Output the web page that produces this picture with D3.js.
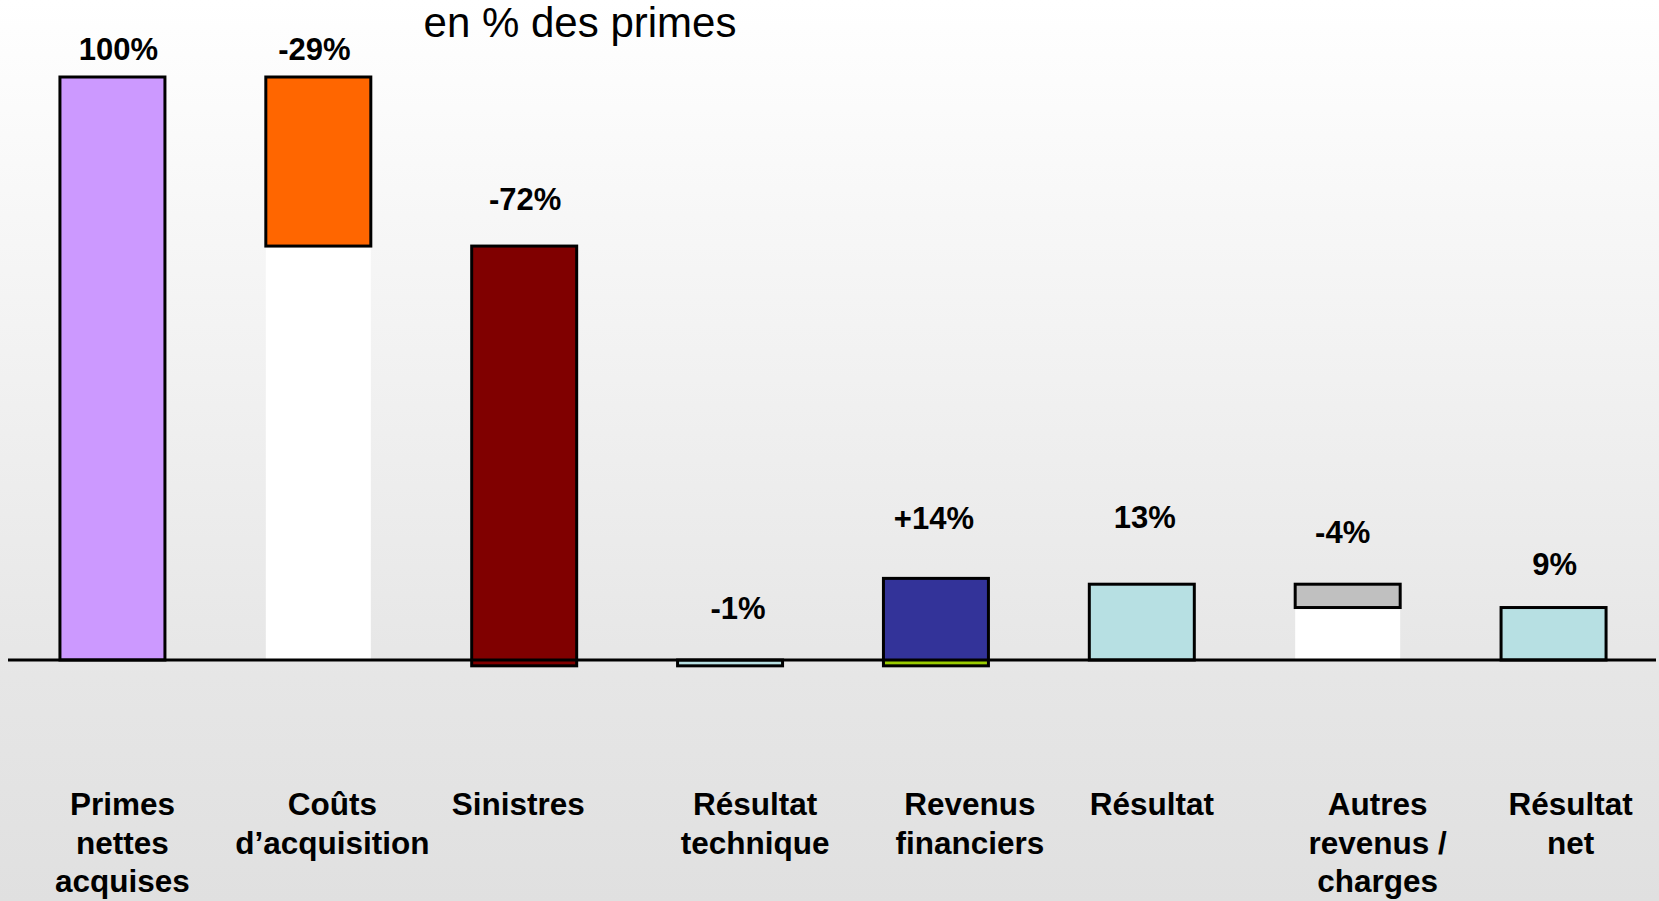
<!DOCTYPE html>
<html lang="fr">
<head>
<meta charset="utf-8">
<script src="https://cdn.jsdelivr.net/npm/d3@7"></script>
<style>
  html, body { margin: 0; padding: 0; background: #fff; }
  svg { display: block; font-family: "Liberation Sans", Arial, sans-serif; }
</style>
</head>
<body>
<svg id="chart" width="1659" height="901"></svg>
<script>
// Compte de résultat en cascade, exprimé en % des primes
const categories = ["primes", "couts", "sinistres", "resTech", "revFin", "resultat", "autres", "resNet"];
const categoryLines = [
  ["Primes", "nettes", "acquises"],
  ["Coûts", "d’acquisition"],
  ["Sinistres"],
  ["Résultat", "technique"],
  ["Revenus", "financiers"],
  ["Résultat"],
  ["Autres", "revenus /", "charges"],
  ["Résultat", "net"]
];
const deltas = [100, -29, -72, -1, 14, 13, -4, 9];
const barKinds = ["total", "step", "step", "total", "step", "total", "step", "total"];
const valueLabels = ["100%", "-29%", "-72%", "-1%", "+14%", "13%", "-4%", "9%"];
const barColors = ["#cc99ff", "#ff6600", "#800000", "#b7e0e3", "#333399", "#b7e0e3", "#c0c0c0", "#b7e0e3"];
const offsetColor = "#99cc00";   // part of a rise that first recovers a negative running total
const titleText = "en % des primes";

// Layout nudges for the text placed around each column (pixels)
const valueLabelLift = [17, 17, 36, 41, 49, 56, 41, 33];
const valueLabelShift = [6, -4, 1, 8, -2, 3, -5, 1];
const categoryShift = [10, 14, -6, 25, 34, 10, 30, 17];

const W = 1659, H = 901;
const svg = d3.select("#chart");

// Background: soft vertical gradient from white to light grey
const defs = svg.append("defs");
const grad = defs.append("linearGradient").attr("id", "bg").attr("x1", 0).attr("y1", 0).attr("x2", 0).attr("y2", 1);
grad.append("stop").attr("offset", "0%").attr("stop-color", "#ffffff");
grad.append("stop").attr("offset", "75%").attr("stop-color", "#e6e6e6");
grad.append("stop").attr("offset", "100%").attr("stop-color", "#e0e0e0");
svg.append("rect").attr("width", W).attr("height", H).attr("fill", "url(#bg)");

const x = d3.scaleBand().domain(categories).range([9.5, 1656.5]).paddingInner(0.49).paddingOuter(0.245);
const y = d3.scaleLinear().domain([0, 100]).range([660, 77]);

// Build the pieces of each column from the running total
let running = 0;
const columns = deltas.map((v, i) => {
  const pieces = [];
  let lo, hi, top;
  if (barKinds[i] === "total") {
    lo = Math.min(0, v); hi = Math.max(0, v);
    pieces.push({ y0: lo, y1: hi, fill: barColors[i] });
    running = v;
    top = hi;
  } else if (v < 0) {
    const end = running + v;
    if (end > 0) pieces.push({ y0: 0, y1: end, fill: "#ffffff", filler: true });
    pieces.push({ y0: end, y1: running, fill: barColors[i] });
    lo = end; hi = running; top = running;
    running = end;
  } else {
    // rise: recover the negative running total, then the gain itself from zero
    if (running < 0) pieces.push({ y0: running, y1: 0, fill: offsetColor });
    pieces.push({ y0: 0, y1: v, fill: barColors[i] });
    lo = Math.min(running, 0); hi = v; top = v;
    running = running + v;
  }
  return { key: categories[i], i, pieces, lo, hi, top };
});

const bars = svg.append("g").selectAll("g").data(columns).join("g");

bars.selectAll("rect.piece").data(d => d.pieces.map(p => ({ ...p, key: d.key }))).join("rect")
  .attr("class", "piece")
  .attr("x", p => x(p.key))
  .attr("width", x.bandwidth())
  .attr("y", p => y(Math.max(p.y0, p.y1)))
  .attr("height", p => Math.abs(y(p.y0) - y(p.y1)))
  .attr("fill", p => p.fill);

bars.append("rect")
  .attr("x", d => x(d.key))
  .attr("width", x.bandwidth())
  .attr("y", d => y(d.hi))
  .attr("height", d => Math.abs(y(d.lo) - y(d.hi)))
  .attr("fill", "none")
  .attr("stroke", "#000")
  .attr("stroke-width", 3);

// Zero line
svg.append("line")
  .attr("x1", 8).attr("x2", 1656)
  .attr("y1", y(0)).attr("y2", y(0))
  .attr("stroke", "#000").attr("stroke-width", 3);

// Value labels
svg.append("g").selectAll("text").data(columns).join("text")
  .attr("x", d => x(d.key) + x.bandwidth() / 2 + valueLabelShift[d.i])
  .attr("y", d => y(d.top) - valueLabelLift[d.i])
  .attr("text-anchor", "middle")
  .attr("font-size", 31)
  .attr("font-weight", "bold")
  .attr("fill", "#000")
  .text(d => valueLabels[d.i]);

// Category labels
const cat = svg.append("g").selectAll("text").data(columns).join("text")
  .attr("x", d => x(d.key) + x.bandwidth() / 2 + categoryShift[d.i])
  .attr("y", 815)
  .attr("text-anchor", "middle")
  .attr("font-size", 31.5)
  .attr("font-weight", "bold")
  .attr("fill", "#000");
cat.selectAll("tspan").data(d => categoryLines[d.i].map(t => ({ t, cx: x(d.key) + x.bandwidth() / 2 + categoryShift[d.i] }))).join("tspan")
  .attr("x", s => s.cx)
  .attr("dy", (s, j) => j === 0 ? 0 : 38.5)
  .text(s => s.t);

// Title
svg.append("text")
  .attr("x", 580).attr("y", 37)
  .attr("text-anchor", "middle")
  .attr("font-size", 42)
  .attr("fill", "#000")
  .text(titleText);
</script>
</body>
</html>
